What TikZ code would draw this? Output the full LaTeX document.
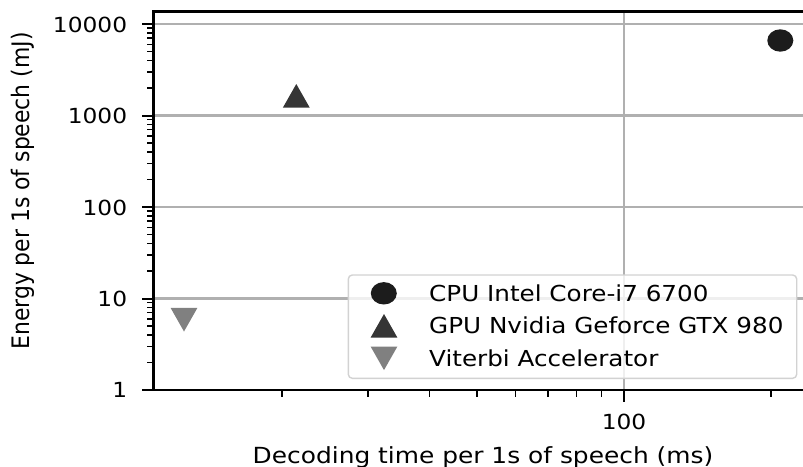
\documentclass[tikz,border=0pt]{standalone}
\usepackage{fontspec}
\usepackage{graphicx}
\setmainfont{DejaVu Sans}
\definecolor{gridC}{HTML}{B0B0B0}
\definecolor{cpuC}{HTML}{1C1C1C}
\definecolor{gpuC}{HTML}{353535}
\definecolor{vitC}{HTML}{808080}
\definecolor{legC}{HTML}{D2D2D2}
\newcommand\hs[1]{\scalebox{1.12}[1]{#1}}
\newcommand\mkcirc[2]{\fill[cpuC] (#1,#2) ellipse [x radius=13pt, y radius=11.2pt];}
\newcommand\mkup[2]{\fill[gpuC] ({#1-13.4},{#2+11.8}) -- (#1,{#2-11.8}) -- ({#1+13.4},{#2+11.8}) -- cycle;}
\newcommand\mkdown[2]{\fill[vitC] ({#1-13.4},{#2-11.8}) -- (#1,{#2+11.8}) -- ({#1+13.4},{#2-11.8}) -- cycle;}
\tikzset{
  gridline/.style={draw=gridC, line width=2.2pt},
  spine/.style={draw=black, line width=2.6pt, line cap=rect},
  majtick/.style={draw=black, line width=2pt},
  mintick/.style={draw=black, line width=1.6pt},
  ticklab/.style={inner sep=0pt, font=\fontsize{20.8}{24}\selectfont},
  axlab/.style={inner sep=0pt, font=\fontsize{22.2}{26}\selectfont},
  legtext/.style={inner sep=0pt, anchor=base west, font=\fontsize{22}{26}\selectfont},
  legbox/.style={draw=legC, line width=1.4pt, fill=white, fill opacity=0.8, rounded corners=4pt}
}
\begin{document}
\begin{tikzpicture}[x=1pt, y=-1pt]
\useasboundingbox (0,0) rectangle (803,466);
% grid
\foreach \d in {0,1,2,3,4} {
  \draw[gridline] (153.5,{390-91.5*\d}) -- (803,{390-91.5*\d});
}
\draw[gridline] (624,11.3) -- (624,390);
% data markers
\mkcirc{780.3}{40.5}
\mkup{296.3}{95.8}
\mkdown{184}{319.7}
% legend
\draw[legbox] (348.3,275) rectangle (796.7,378.3);
\mkcirc{383.8}{293.3}
\mkup{384}{325.8}
\mkdown{384}{358.3}
\node[legtext] (l1) at (429,301) {\hs{CPU Intel Core-i7 6700}};
\node[legtext] (l2) at (429,333.5) {\hs{GPU Nvidia Geforce GTX 980}};
\node[legtext] (l3) at (429,366) {\hs{Viterbi Accelerator}};
% spines
\draw[spine] (153.5,390) -- (153.5,11.3);
\draw[spine] (153.5,11.3) -- (803,11.3);
\draw[spine] (153.5,390) -- (803,390);
% y ticks
\foreach \d in {0,1,2,3,4} {
  \draw[majtick] (142,{390-91.5*\d}) -- (153.5,{390-91.5*\d});
}
\foreach \d in {0,1,2,3} {
  \foreach \k in {2,...,9} {
    \draw[mintick] (147.3,{390-91.5*(\d+log10(\k))}) -- (153.5,{390-91.5*(\d+log10(\k))});
  }
}
% x ticks
\draw[majtick] (624,390) -- (624,401.5);
\foreach \k in {20,30,40,50,60,70,80,90,200} {
  \draw[mintick] ({624+489*(log10(\k)-2)},390) -- ({624+489*(log10(\k)-2)},396.5);
}
% tick labels
\node[ticklab, anchor=east] (y0) at (127.3,390) {\hs{1}};
\node[ticklab, anchor=east] (y1) at (127.3,298.5) {\hs{10}};
\node[ticklab, anchor=east] (y2) at (127.3,207.5) {\hs{100}};
\node[ticklab, anchor=east] (y3) at (127.3,116) {\hs{1000}};
\node[ticklab, anchor=east] (y4) at (127.3,24.5) {\hs{10000}};
\node[ticklab, anchor=north] (x2) at (624,413.5) {\hs{100}};
% axis labels
\node[axlab, anchor=base] (xl) at (483,463.5) {\hs{Decoding time per 1s of speech (ms)}};
\node[inner sep=0pt, font=\fontsize{21.9}{26}\selectfont, rotate=90, anchor=base] (yl) at (29.5,191) {\scalebox{1}[1.1]{Energy per 1s of speech (mJ)}};
\end{tikzpicture}
\end{document}
